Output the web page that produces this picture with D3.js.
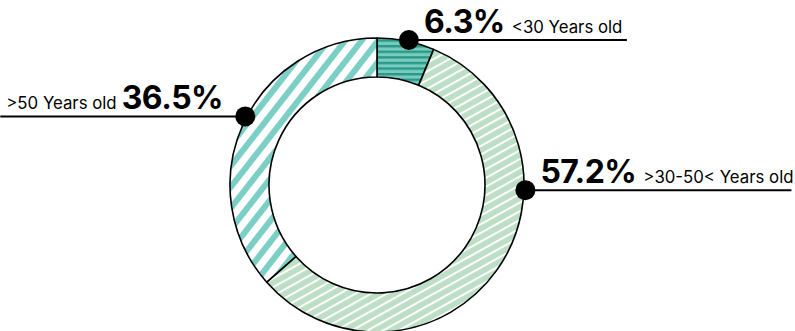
<!DOCTYPE html>
<html>
<head>
<meta charset="utf-8">
<script src="https://cdn.jsdelivr.net/npm/d3@7"></script>
<style>
  html, body { margin: 0; padding: 0; background: #fff; }
  svg { display: block; font-family: Inter, "Noto Sans", sans-serif; }
</style>
</head>
<body>
<svg id="chart" width="795" height="331"></svg>
<script>
// Age distribution, share of total in percent
const categories = ["<30 Years old", ">30-50< Years old", ">50 Years old"];
const shares = [6.3, 57.2, 36.5];
const patternIds = ["hatch-young", "hatch-mid", "hatch-old"];

// Callout placement: angle of the dot on the ring (degrees clockwise from top),
// side of the leader line and its length in pixels
const calloutAngles = [12.4, 92, 297.5];
const calloutSides = ["right", "right", "left"];
const calloutLengths = [218, 266, 245];

const width = 795, height = 331;
const cx = 377, cy = 185;
const outerR = 147, innerR = 108, dotR = 10;

const svg = d3.select("#chart");
const defs = svg.append("defs");

// <30: horizontal dark teal bands over mid teal
const p1 = defs.append("pattern").attr("id", patternIds[0])
  .attr("patternUnits", "userSpaceOnUse").attr("width", 8).attr("height", 5.6);
p1.append("rect").attr("width", 8).attr("height", 5.6).attr("fill", "#78cbbf");
p1.append("rect").attr("y", 0).attr("width", 8).attr("height", 2.4).attr("fill", "#2a9886");

// 30-50: thin white slanted strokes over light green
const p2 = defs.append("pattern").attr("id", patternIds[1])
  .attr("patternUnits", "userSpaceOnUse").attr("width", 20).attr("height", 7.6)
  .attr("patternTransform", "rotate(-29)");
p2.append("rect").attr("width", 20).attr("height", 7.6).attr("fill", "#bcdfc6");
p2.append("rect").attr("y", 0).attr("width", 20).attr("height", 2).attr("fill", "#ffffff");

// >50: teal diagonal bands on white
const p3 = defs.append("pattern").attr("id", patternIds[2])
  .attr("patternUnits", "userSpaceOnUse").attr("width", 20).attr("height", 13)
  .attr("patternTransform", "rotate(-52)");
p3.append("rect").attr("width", 20).attr("height", 13).attr("fill", "#ffffff");
p3.append("rect").attr("y", 0).attr("width", 20).attr("height", 6).attr("fill", "#7bcfc4");

const pie = d3.pie().sort(null).value(d => d).startAngle(0).endAngle(2 * Math.PI);
const arc = d3.arc().innerRadius(innerR).outerRadius(outerR);

const g = svg.append("g").attr("transform", `translate(${cx},${cy})`);

g.selectAll("path.slice")
  .data(pie(shares))
  .join("path")
  .attr("class", "slice")
  .attr("d", arc)
  .attr("fill", (d, i) => `url(#${patternIds[i]})`)
  .attr("stroke", "#000")
  .attr("stroke-width", 1.6)
  .attr("stroke-linejoin", "round");

// Callouts: dot on the ring, horizontal leader line, value + category
const rad = a => a * Math.PI / 180;
categories.forEach((cat, i) => {
  const a = rad(calloutAngles[i]);
  const r = outerR + 1.5;
  const x = cx + r * Math.sin(a);
  const y = cy - r * Math.cos(a);
  const right = calloutSides[i] === "right";
  const x2 = right ? x + calloutLengths[i] : x - calloutLengths[i];

  svg.append("line")
    .attr("x1", x).attr("y1", y).attr("x2", x2).attr("y2", y)
    .attr("stroke", "#000").attr("stroke-width", 2);

  svg.append("circle")
    .attr("cx", x).attr("cy", y).attr("r", dotR).attr("fill", "#000");

  const valueText = d3.format(".1f")(shares[i]) + "%";
  const t = svg.append("text")
    .attr("y", y - 7)
    .attr("fill", "#000");
  if (right) {
    t.attr("x", x + 15);
    t.append("tspan").attr("font-size", 32).attr("font-weight", 700)
      .attr("letter-spacing", -0.5).text(valueText);
    t.append("tspan").attr("dx", 7).attr("font-size", 16.8).text(cat);
  } else {
    t.attr("x", x2 + 6);
    t.append("tspan").attr("font-size", 16.8).text(cat);
    t.append("tspan").attr("dx", 5).attr("font-size", 32).attr("font-weight", 700)
      .attr("letter-spacing", -0.5).text(valueText);
  }
});
</script>
</body>
</html>
